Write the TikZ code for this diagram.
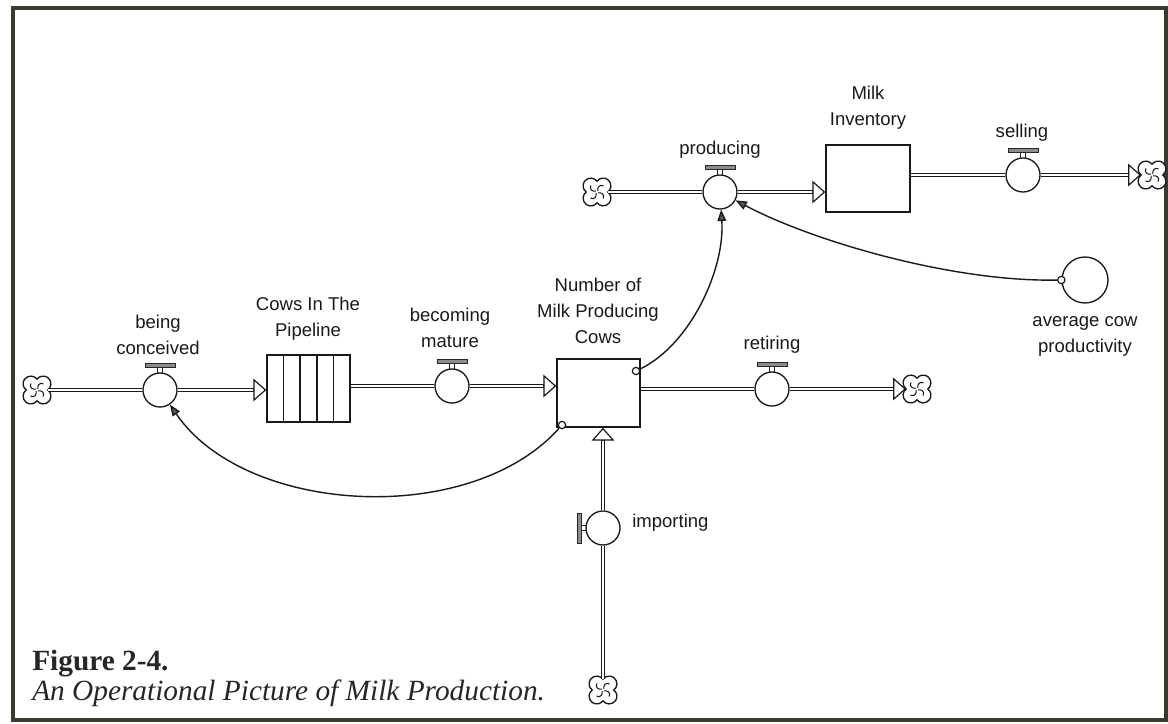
\documentclass[tikz,border=0pt]{standalone}
\usepackage{fontspec}
\setmainfont{Liberation Serif}
\setsansfont{Liberation Sans}
\usetikzlibrary{arrows.meta,calc}
\definecolor{framec}{RGB}{58,58,48}
\tikzset{
  cloudpic/.pic={
    \begin{scope}[scale=1.1]
    \draw[black!90,line width=1pt,fill=white] (9.78,0)
      arc[start angle=-53.9,end angle=143.9,radius=7]
      arc[start angle=36.1,end angle=233.9,radius=7]
      arc[start angle=126.1,end angle=323.9,radius=7]
      arc[start angle=216.1,end angle=413.9,radius=7] -- cycle;
    \foreach \a in {0,90,180,270}{
      \draw[black!90,line width=0.8pt,rotate=\a] (0.8,0.8) .. controls (4,0) and (7.5,2.5) .. (5.5,6);
    }
    \end{scope}
  },
  thandle/.pic={
    \draw[black!85,line width=0.8pt] (-2.5,-16.5) -- (-2.5,-23) (2.5,-16.5) -- (2.5,-23);
    \filldraw[draw=black!85,fill=black!45,line width=0.6pt] (-15,-23) rectangle (15,-26.5);
  },
  lhandle/.pic={
    \draw[black!85,line width=0.8pt] (-16.5,-2.5) -- (-22,-2.5) (-16.5,2.5) -- (-22,2.5);
    \filldraw[draw=black!85,fill=black!45,line width=0.6pt] (-22,-15) rectangle (-26,15);
  }
}
\newcommand{\flowarrow}[2]{%
  \draw[pipe,shorten >=9.5pt] (#1) -- (#2);
  \draw[pipetip] ($(#2)!9.75pt!(#1)$) -- (#2);}
\begin{document}
\begin{tikzpicture}[x=0.75pt,y=-0.75pt,
  pipe/.style={draw=black!90,double=white,double distance=1.7pt,line width=0.95pt},
  pipetip/.style={draw=black!90,line width=0.9pt,-{Triangle[fill=white,length=9.75pt,width=17pt]}},
  valve/.style={circle,draw=black!90,fill=white,line width=1pt,minimum size=25.5pt,inner sep=0pt},
  stockbox/.style={rectangle,draw=black!90,fill=white,line width=1pt,inner sep=0pt},
  cloudn/.style={circle,minimum size=16pt,inner sep=0pt},
  dot/.style={circle,draw=black!90,fill=white,line width=0.9pt,minimum size=5.5pt,inner sep=0pt},
  conn/.style={draw=black!90,line width=1.05pt,-{Triangle[length=8.5pt,width=6.5pt,fill=black!65]}},
  lbl/.style={font=\sffamily\fontsize{13.9}{19.5}\selectfont,text=black!90,align=center,inner sep=0pt},
  figtext/.style={anchor=base west,inner sep=0pt,text=black!85},
]
\useasboundingbox (0,0) rectangle (1168,724);
\draw[draw=framec,line width=3pt] (13,8) rectangle (1166,720);

% nodes
\node[cloudn] (cl1) at (37,390) {};
\node[valve] (bc) at (160,390) {};
\node[stockbox,minimum width=62.25pt,minimum height=50.25pt] (cp) at (308.5,388.5) {};
\node[valve] (bm) at (452,386) {};
\node[stockbox,minimum width=62.25pt,minimum height=51pt] (st) at (598.5,393) {};
\node[valve] (rt) at (772,389) {};
\node[cloudn] (cl2) at (917,389) {};
\node[valve] (im) at (603,528) {};
\node[cloudn] (cl3) at (603,690) {};
\node[cloudn] (cl4) at (597,192) {};
\node[valve] (pr) at (720,192) {};
\node[stockbox,minimum width=63pt,minimum height=50.25pt] (mi) at (868,178.5) {};
\node[valve] (se) at (1023,175) {};
\node[cloudn] (cl5) at (1152,175) {};
\node[circle,draw=black!90,fill=white,line width=1pt,minimum size=34.5pt,inner sep=0pt] (acp) at (1085,280) {};

% conveyor dividers
\foreach \f in {0.2,0.4,0.6,0.8}
  \draw[black!90,line width=1pt] ($(cp.north west)!\f!(cp.north east)$) -- ($(cp.south west)!\f!(cp.south east)$);

% clouds
\foreach \c in {cl1,cl2,cl3,cl4,cl5} \path (\c.center) pic {cloudpic};

% pipes
\draw[pipe] (cl1.east) -- (bc.west);
\flowarrow{bc.east}{bc.east -| cp.west}
\draw[pipe] (bm.west -| cp.east) -- (bm.west);
\flowarrow{bm.east}{bm.east -| st.west}
\draw[pipe] (rt.west -| st.east) -- (rt.west);
\flowarrow{rt.east}{cl2.west}
\draw[pipe] (cl3.north) -- (im.south);
\flowarrow{im.north}{im.north |- st.south}
\draw[pipe] (cl4.east) -- (pr.west);
\flowarrow{pr.east}{pr.east -| mi.west}
\draw[pipe] (se.west -| mi.east) -- (se.west);
\flowarrow{se.east}{cl5.west}

% valve handles
\foreach \v in {bc,bm,rt,pr,se} \path (\v.center) pic {thandle};
\path (im.center) pic {lhandle};

% info links
\node[dot] (d1) at (562,425) {};
\node[dot] (d2) at (636,371) {};
\node[dot] (d3) at (acp.west) {};
\draw[conn] (d1) .. controls (470,528) and (245,515) .. (bc);
\draw[conn] (d2) .. controls (690,345) and (725,270) .. (pr);
\draw[conn] (d3) .. controls (950,282) and (810,240) .. (pr);

% labels
\node[lbl] (bcl) at (158,335) {being\\conceived};
\node[lbl] (cpl) at (308,319) {Cows In The\\Pipeline};
\node[lbl] (bml) at (450,328) {becoming\\mature};
\node[lbl] (stl) at (598,311) {Number of\\Milk Producing\\Cows};
\node[lbl] (rtl) at (772,345) {retiring};
\node[lbl,anchor=west] (iml) at (632,523) {importing};
\node[lbl] (prl) at (720,150) {producing};
\node[lbl] (mil) at (868,108) {Milk\\Inventory};
\node[lbl] (sel) at (1022,133) {selling};
\node[lbl] (acl) at (1085,336) {average cow\\productivity};

% caption
\node[figtext,font=\fontsize{22}{26}\selectfont\bfseries] (fig) at (32,670) {Figure 2-4.};
\node[figtext,font=\fontsize{22}{26}\selectfont\itshape] (cap) at (32,700) {An Operational Picture of Milk Production.};
\end{tikzpicture}
\end{document}
